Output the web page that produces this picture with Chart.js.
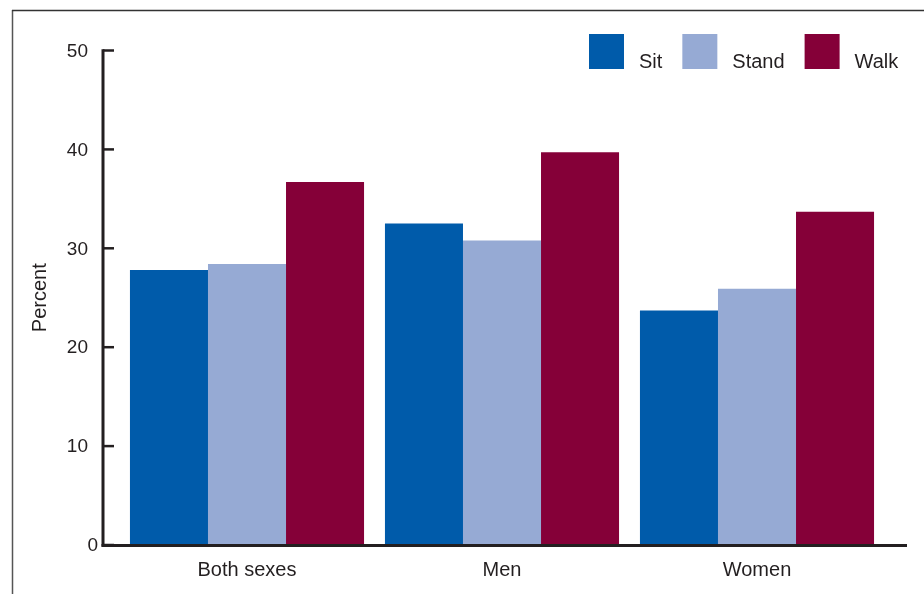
<!DOCTYPE html>
<html>
<head>
<meta charset="utf-8">
<script src="https://cdn.jsdelivr.net/npm/chart.js@4.4.1/dist/chart.umd.min.js"></script>
<style>
  html, body { margin: 0; padding: 0; background: #fff; }
  #wrap { width: 924px; height: 594px; }
</style>
</head>
<body>
<div id="wrap"><canvas id="myChart" width="924" height="594"></canvas></div>
<script>
const categories = ["Both sexes", "Men", "Women"];
const seriesNames = ["Sit", "Stand", "Walk"];
const sitValues = [27.8, 32.5, 23.7];
const standValues = [28.4, 30.8, 25.9];
const walkValues = [36.7, 39.7, 33.7];
const seriesColors = ["#005BAA", "#96AAD4", "#850038"];
const yTicks = [0, 10, 20, 30, 40, 50];

const INK = "#231F20";
const FONT = "'Liberation Sans', Arial, Helvetica, sans-serif";

// axes, frame, y labels and legend drawn by hand to match the print style
const decorPlugin = {
  id: "decor",
  afterDatasetsDraw(chart) {
    const ctx = chart.ctx;
    const area = chart.chartArea;
    const y = chart.scales.y;
    const axisLeft = area.left - 16.5;
    const axisRight = area.right + 22.5;
    const y0 = y.getPixelForValue(0);
    const yTop = y.getPixelForValue(50);

    ctx.save();

    // outer frame (left and top only)
    ctx.lineWidth = 1.5;
    ctx.strokeStyle = "#555";
    ctx.beginPath();
    ctx.moveTo(12.5, 10);
    ctx.lineTo(12.5, 594);
    ctx.stroke();
    ctx.strokeStyle = "#333";
    ctx.beginPath();
    ctx.moveTo(12, 10.5);
    ctx.lineTo(924, 10.5);
    ctx.stroke();

    // y axis line + inward ticks
    ctx.strokeStyle = INK;
    ctx.lineWidth = 3;
    ctx.beginPath();
    ctx.moveTo(axisLeft, yTop - 1.2);
    ctx.lineTo(axisLeft, y0 + 1.5);
    ctx.stroke();
    ctx.lineWidth = 2.5;
    yTicks.forEach(v => {
      const py = y.getPixelForValue(v);
      ctx.beginPath();
      ctx.moveTo(axisLeft, py);
      ctx.lineTo(axisLeft + 11, py);
      ctx.stroke();
    });

    // x axis line
    ctx.lineWidth = 3;
    ctx.beginPath();
    ctx.moveTo(axisLeft - 1.5, y0 + 0.5);
    ctx.lineTo(axisRight, y0 + 0.5);
    ctx.stroke();

    // y tick labels
    ctx.fillStyle = INK;
    ctx.font = "19px " + FONT;
    ctx.textAlign = "right";
    ctx.textBaseline = "middle";
    yTicks.forEach(v => {
      const py = y.getPixelForValue(v);
      const px = v === 0 ? axisLeft - 5 : axisLeft - 15;
      ctx.fillText(String(v), px, py + 1);
    });

    // y title
    ctx.save();
    ctx.translate(40, (yTop + y0) / 2);
    ctx.rotate(-Math.PI / 2);
    ctx.textAlign = "center";
    ctx.textBaseline = "middle";
    ctx.font = "20px " + FONT;
    ctx.fillText("Percent", 0, 0);
    ctx.restore();

    // legend
    ctx.font = "20px " + FONT;
    ctx.textAlign = "left";
    ctx.textBaseline = "alphabetic";
    let lx = 589;
    const boxTop = 34, box = 35;
    chart.data.datasets.forEach(ds => {
      ctx.fillStyle = ds.backgroundColor;
      ctx.fillRect(lx, boxTop, box, box);
      lx += box + 15;
      ctx.fillStyle = INK;
      ctx.fillText(ds.label, lx, boxTop + box - 1);
      lx += ctx.measureText(ds.label).width + 20;
    });

    ctx.restore();
  }
};

const valuesBySeries = [sitValues, standValues, walkValues];

new Chart(document.getElementById("myChart"), {
  type: "bar",
  data: {
    labels: categories,
    datasets: seriesNames.map((name, i) => ({
      label: name,
      data: valuesBySeries[i],
      backgroundColor: seriesColors[i],
      borderWidth: 0,
      categoryPercentage: 0.918,
      barPercentage: 1.0,
    })),
  },
  options: {
    responsive: false,
    animation: false,
    devicePixelRatio: 1,
    layout: {
      padding: { left: 119.5, right: 39.5, top: 50.5, bottom: 0 },
    },
    plugins: {
      legend: { display: false },
      tooltip: { enabled: false },
    },
    scales: {
      x: {
        grid: { display: false, drawTicks: false },
        border: { display: false },
        afterFit: (scale) => { scale.height = 49; },
        ticks: {
          color: INK,
          padding: 13,
          font: { family: FONT, size: 20 },
        },
      },
      y: {
        display: false,
        min: 0,
        max: 50,
        ticks: { stepSize: 10 },
      },
    },
  },
  plugins: [decorPlugin],
});
</script>
</body>
</html>
